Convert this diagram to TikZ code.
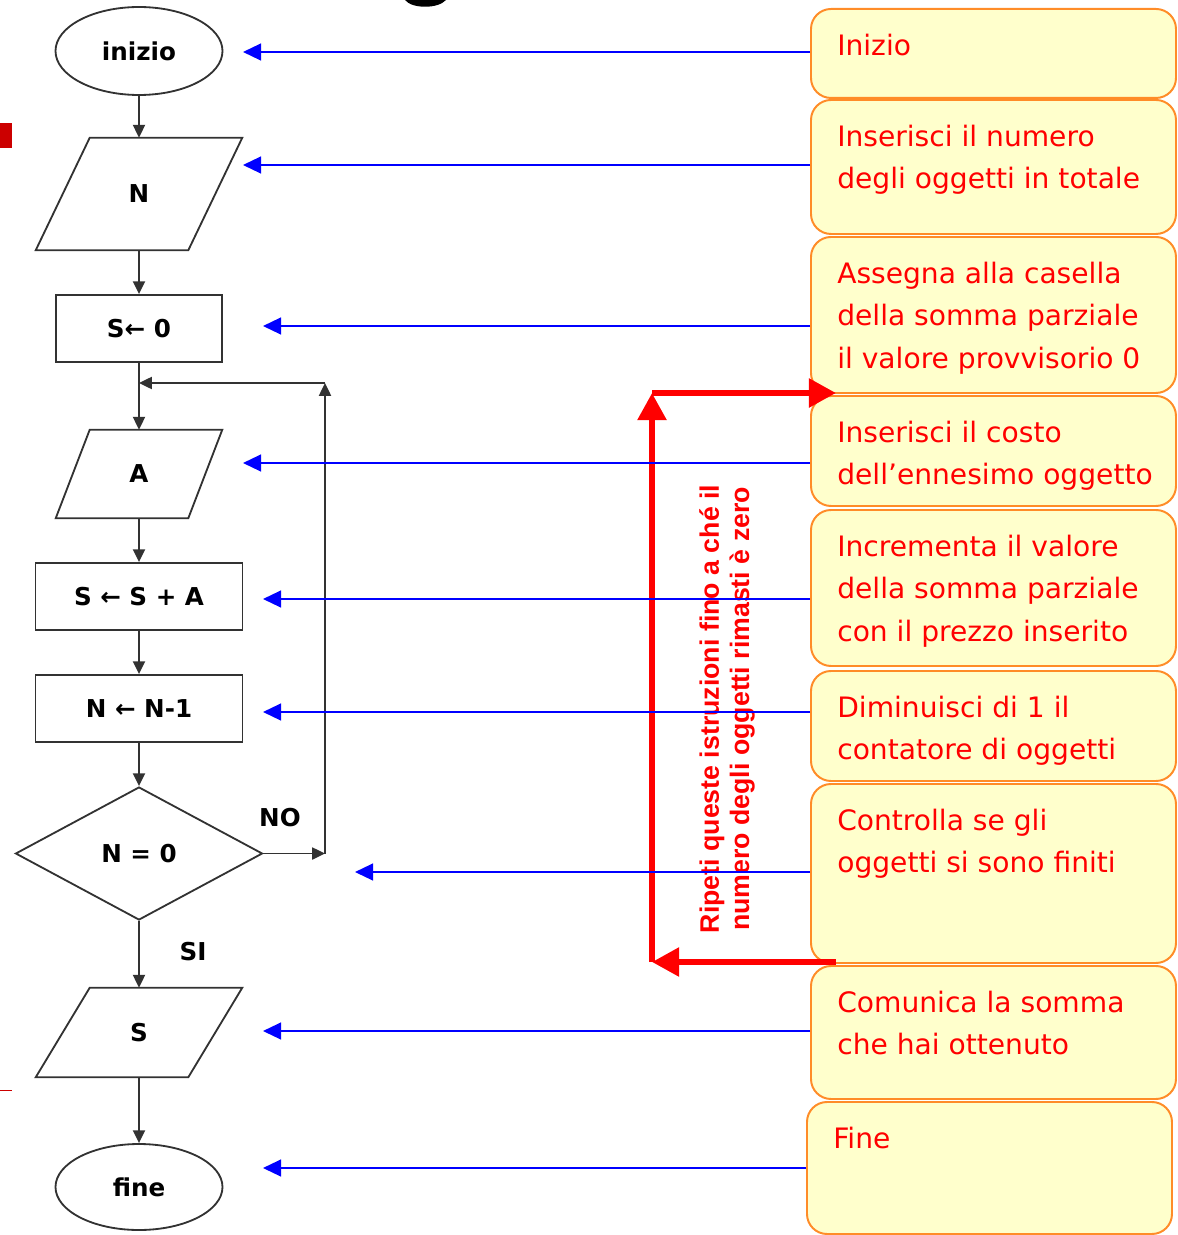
\documentclass[tikz,border=0pt]{standalone}
\usepackage{fontspec}
\setmainfont{DejaVu Sans}
\newfontfamily\notefont{Liberation Sans}
\usetikzlibrary{shapes.geometric,arrows.meta}

\definecolor{boxfill}{RGB}{255,255,204}
\definecolor{boxline}{RGB}{255,140,40}
\definecolor{flowgray}{RGB}{50,50,50}
\definecolor{marker}{RGB}{204,0,0}
\def\PX{0.025cm}

\tikzset{
  shape line/.style={draw=flowgray, line width=1.3pt},
  flow/.style={draw=flowgray, line width=1.3pt, -{Triangle[length=0.32cm,width=0.3cm]}},
  flowfont/.style={font=\bfseries\fontsize{17.5}{20}\selectfont},
  term/.style={ellipse, shape line, flowfont, minimum width=167*\PX, minimum height=88*\PX},
  proc/.style={rectangle, shape line, flowfont, minimum height=67*\PX},
  io/.style={rectangle, inner sep=0pt, flowfont},
  decision/.style={diamond, shape line, flowfont, inner sep=0pt, minimum width=247*\PX, minimum height=133*\PX},
  card/.style={rectangle, rounded corners=0.5cm, draw=boxline, fill=boxfill, line width=1.4pt,
    anchor=north west, minimum width=365*\PX},
  cardtext/.style={anchor=north west, align=left, inner sep=0pt, text=red, font=\fontsize{20}{30}\selectfont},
  hint/.style={draw=blue, line width=1.3pt, -{Triangle[length=0.45cm,width=0.42cm]}},
  loopline/.style={draw=red, line width=4.2pt, -{Triangle[length=0.68cm,width=0.7cm]}},
}

\begin{document}
\begin{tikzpicture}[x=0.025cm, y=-0.025cm]
  \useasboundingbox (0,0) rectangle (1177,1235);

  % ==== leftovers of the slide ====
  \fill[marker] (0,123) rectangle (12,148);
  \draw[marker, line width=0.6pt] (0,1090) -- (12,1090);
  \fill (405,0) .. controls (412,9) and (438,9) .. (446,0) -- cycle;

  % ==== Flowchart ====
  \node[term] (start) at (139,51) {inizio};
  \node[io, minimum width=206*\PX, minimum height=112*\PX] (count) at (139,194) {N};
  \node[proc, minimum width=166*\PX] (zero) at (139,328.5) {S← 0};
  \node[io, minimum width=166*\PX, minimum height=88*\PX] (price) at (139,474) {A};
  \node[proc, minimum width=207*\PX] (add) at (139,596.5) {S ← S + A};
  \node[proc, minimum width=207*\PX] (less) at (139,708.5) {N ← N-1};
  \node[decision] (check) at (139,853.5) {N = 0};
  \node[io, minimum width=206*\PX, minimum height=89*\PX] (result) at (139,1032.5) {S};
  \node[term, minimum height=86*\PX] (stop) at (139,1187) {fine};

  % input/output frames
  \foreach \n/\s in {count/54, price/34, result/54}{
    \draw[shape line] ([xshift=\s*\PX]\n.north west) -- (\n.north east)
      -- ([xshift=-\s*\PX]\n.south east) -- (\n.south west) -- cycle;
  }

  \draw[flow] (start) -- (count);
  \draw[flow] (count) -- (zero);
  \draw[flow] (zero) -- (price);
  \draw[flow] (price) -- (add);
  \draw[flow] (add) -- (less);
  \draw[flow] (less) -- (check);
  \draw[flow] (check) -- (result);
  \draw[flow] (result) -- (stop);

  % loop back when N is not zero
  \coordinate (loopdown) at (325,853.5);
  \coordinate (loopup) at (325,383);
  \coordinate (join) at (139,383);
  \draw[flow] (check.east) -- (loopdown);
  \draw[flow] (loopdown) -- (loopup);
  \draw[flow] (loopup) -- (join);
  \node[flowfont] (nolabel) at (280,818) {NO};
  \node[flowfont] (silabel) at (193,952) {SI};

  % ==== Comments on the right ====
  \foreach \n/\x/\top/\h/\txt in {
      1/810/8/89/{Inizio},
      2/810/99/134/{Inserisci il numero\\degli oggetti in totale},
      3/810/236/156/{Assegna alla casella\\della somma parziale\\il valore provvisorio 0},
      4/810/395/110/{Inserisci il costo\\dell’ennesimo oggetto},
      5/810/509/156/{Incrementa il valore\\della somma parziale\\con il prezzo inserito},
      6/810/670/110/{Diminuisci di 1 il\\contatore di oggetti},
      7/810/783/179/{Controlla se gli\\oggetti si sono finiti},
      8/810/965/133/{Comunica la somma\\che hai ottenuto},
      9/806/1101/132/{Fine}}{
    \node[card, minimum height=\h*\PX] (card\n) at (\x,\top) {};
    \node[cardtext] (text\n) at ([xshift=27*\PX, yshift=-26*\PX]card\n.north west) {\txt};
  }

  % red loop over the repeated steps
  \coordinate (rtl) at (652,393);
  \coordinate (rtr) at (836,393);
  \coordinate (rbl) at (652,962);
  \coordinate (rbr) at (836,962);
  \draw[loopline] (rbr) -- (rbl);
  \draw[loopline] (rbl) -- (rtl);
  \draw[loopline] (rtl) -- (rtr);
  \node[rotate=90, align=center, text=red, inner sep=0pt,
    font=\notefont\bfseries\fontsize{19}{21.5}\selectfont] (looptext) at (727,709)
    {Ripeti queste istruzioni fino a ché il\\numero degli oggetti rimasti è zero};

  % blue pointers from each comment to its step
  \foreach \n/\y/\t in {1/52/243, 2/165/243, 3/326/263, 4/463/243, 5/599/263,
      6/712/263, 7/872/355, 8/1031/263, 9/1168/263}{
    \coordinate (tip\n) at (\t,\y);
    \draw[hint] (card\n.west |- tip\n) -- (tip\n);
  }
\end{tikzpicture}
\end{document}
